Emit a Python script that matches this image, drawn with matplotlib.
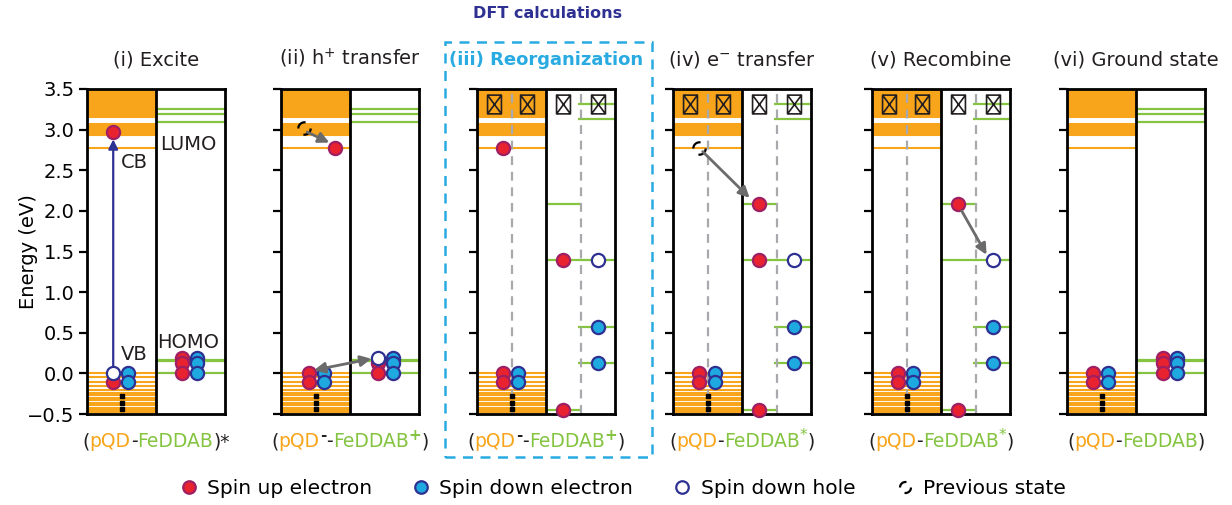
import numpy as np
import matplotlib
matplotlib.use("Agg")
import matplotlib.pyplot as plt
from matplotlib.path import Path
from matplotlib.lines import Line2D
from matplotlib.patches import Rectangle

plt.rcParams['font.family'] = 'DejaVu Sans'

# ---- data (energies in eV, x in panel units: 0-1 pQD, 1-2 FeDDAB) ----
panel_titles = ["(i) Excite", "(ii) h$^{+}$ transfer", "(iii) Reorganization",
                "(iv) e$^{-}$ transfer", "(v) Recombine", "(vi) Ground state"]

qd_levels = [3.49, 3.47, 3.45, 3.43, 3.41, 3.39, 3.37, 3.35, 3.33, 3.31, 3.29,
             3.27, 3.25, 3.23, 3.21, 3.19, 3.17, 3.15,
             3.07, 3.05, 3.03, 3.01, 2.99, 2.97, 2.95, 2.93, 2.78,
             0.0, -0.05, -0.10, -0.16, -0.21, -0.24, -0.27, -0.30, -0.33,
             -0.36, -0.39, -0.42, -0.45, -0.48]

fe_ground_levels = [3.25, 3.19, 3.10, 0.17, 0.15, 0.0]   # panels i, ii, vi
fe_up_levels = [2.09, -0.45]                            # panels iii-v
fe_full_levels = [1.40]
fe_down_levels = [3.32, 3.13, 0.57, 0.13]

# (panel, x, energy)
spin_up = [(0, 0.38, 2.97), (0, 0.38, -0.10), (0, 1.38, 0.19), (0, 1.38, 0.13), (0, 1.38, 0.0),
           (1, 0.78, 2.78), (1, 0.40, 0.0), (1, 0.40, -0.10), (1, 1.40, 0.13), (1, 1.40, 0.0),
           (2, 0.38, 2.78), (2, 0.38, 0.0), (2, 0.38, -0.10), (2, 1.25, 1.40), (2, 1.25, -0.45),
           (3, 0.38, 0.0), (3, 0.38, -0.10), (3, 1.25, 2.09), (3, 1.25, 1.40), (3, 1.25, -0.45),
           (4, 0.38, 0.0), (4, 0.38, -0.10), (4, 1.25, 2.09), (4, 1.25, -0.45),
           (5, 0.38, 0.0), (5, 0.38, -0.10), (5, 1.39, 0.19), (5, 1.39, 0.13), (5, 1.39, 0.0)]
spin_down = [(0, 0.60, 0.0), (0, 0.60, -0.10), (0, 1.59, 0.19), (0, 1.59, 0.13), (0, 1.59, 0.0),
             (1, 0.63, 0.0), (1, 0.63, -0.10), (1, 1.63, 0.19), (1, 1.63, 0.13), (1, 1.63, 0.0),
             (2, 0.60, 0.0), (2, 0.60, -0.10), (2, 1.76, 0.57), (2, 1.76, 0.13),
             (3, 0.61, 0.0), (3, 0.61, -0.10), (3, 1.76, 0.57), (3, 1.76, 0.13),
             (4, 0.60, 0.0), (4, 0.60, -0.10), (4, 1.76, 0.57), (4, 1.76, 0.13),
             (5, 0.60, 0.0), (5, 0.60, -0.10), (5, 1.60, 0.19), (5, 1.60, 0.13), (5, 1.60, 0.0)]
holes = [(0, 0.38, 0.0), (1, 1.40, 0.19), (2, 1.76, 1.40), (3, 1.76, 1.40), (4, 1.76, 1.40)]
previous = [(1, 0.34, 3.02), (3, 0.38, 2.78)]
arrows = [(1, (0.38, 2.97), (0.70, 2.84), '-|>'),
          (1, (0.48, 0.04), (1.31, 0.18), '<|-|>'),
          (3, (0.43, 2.73), (1.11, 2.16), '-|>'),
          (4, (1.30, 2.00), (1.66, 1.46), '-|>')]
box_x = [0.24, 0.73, 1.25, 1.76]
box_e = 3.32
dots_e = [-0.28, -0.36, -0.44]

bottom_labels = [
    [("(", 'k', 0), ("pQD", 'o', 0), ("-", 'k', 0), ("FeDDAB", 'g', 0), (")*", 'k', 0)],
    [("(", 'k', 0), ("pQD", 'o', 0), ("-", 'k', 1), ("-", 'k', 0), ("FeDDAB", 'g', 0), ("+", 'g', 1), (")", 'k', 0)],
    [("(", 'k', 0), ("pQD", 'o', 0), ("-", 'k', 1), ("-", 'k', 0), ("FeDDAB", 'g', 0), ("+", 'g', 1), (")", 'k', 0)],
    [("(", 'k', 0), ("pQD", 'o', 0), ("-", 'k', 0), ("FeDDAB", 'g', 0), ("*", 'g', 1), (")", 'k', 0)],
    [("(", 'k', 0), ("pQD", 'o', 0), ("-", 'k', 0), ("FeDDAB", 'g', 0), ("*", 'g', 1), (")", 'k', 0)],
    [("(", 'k', 0), ("pQD", 'o', 0), ("-", 'k', 0), ("FeDDAB", 'g', 0), (")", 'k', 0)],
]
legend_labels = ["Spin up electron", "Spin down electron", "Spin down hole", "Previous state"]

# ---- styles ----
ORANGE = '#f9a51b'
GREEN = '#84c441'
RED = '#e8232f'
RED_EDGE = '#9e1f63'
BLUE = '#1fa9e1'
NAVY = '#2e3192'
CYAN = '#29abe2'
GRAY = '#6b6b6b'
DARK = '#231f20'
cmap_txt = {'k': DARK, 'o': ORANGE, 'g': GREEN}

W, H = 1232, 505
fig = plt.figure(figsize=(W / 100, H / 100), dpi=100)

lefts = [87, 281, 477, 673, 872, 1067]
pw = 138
y_top, y_bot = 89, 414

box_path = Path([(-0.37, -0.5), (0.37, -0.5), (0.37, 0.5), (-0.37, 0.5), (-0.37, -0.5),
                 (-0.37, -0.5), (0.37, 0.5), (-0.37, 0.5), (0.37, -0.5)],
                [Path.MOVETO, Path.LINETO, Path.LINETO, Path.LINETO, Path.CLOSEPOLY,
                 Path.MOVETO, Path.LINETO, Path.MOVETO, Path.LINETO])
prev_path = Path.make_compound_path(Path.arc(80, 180), Path.arc(260, 360))

def dot(ax, x, e, fc, ec, z=5):
    ax.plot(x, e, 'o', ms=9.5, mfc=fc, mec=ec, mew=1.6, zorder=z, clip_on=False)

axes = []
for i in range(6):
    ax = fig.add_axes([lefts[i] / W, 1 - y_bot / H, pw / W, (y_bot - y_top) / H])
    axes.append(ax)
    ax.set_xlim(0, 2)
    ax.set_ylim(-0.5, 3.5)
    ax.set_xticks([])
    ax.set_yticks(np.arange(-0.5, 3.51, 0.5))
    ax.tick_params(axis='y', direction='out', length=6, width=1.6, labelsize=14, pad=3)
    if i > 0:
        ax.set_yticklabels([])
    for s in ax.spines.values():
        s.set_linewidth(2)
    ax.axvline(1, color='k', lw=2, zorder=3)
    ax.hlines(qd_levels, 0, 1, color=ORANGE, lw=1.5, zorder=1)
    if i in (0, 1, 5):
        ax.hlines(fe_ground_levels, 1, 2, color=GREEN, lw=1.6, zorder=1)
    else:
        ax.hlines(fe_up_levels, 1, 1.5, color=GREEN, lw=1.6, zorder=1)
        ax.hlines(fe_full_levels, 1, 2, color=GREEN, lw=1.6, zorder=1)
        ax.hlines(fe_down_levels, 1.47, 2, color=GREEN, lw=1.6, zorder=1)
        ax.axvline(0.5, color='#a7a9ac', lw=1.6, ls=(0, (4, 3)), zorder=2)
        ax.axvline(1.5, color='#a7a9ac', lw=1.6, ls=(0, (4, 3)), zorder=2)
        ax.plot(box_x, [box_e] * len(box_x), ls='none', marker=box_path, ms=13.5,
                mfc='none', mec='#231f20', mew=1.2, zorder=4)
    ax.plot([0.5] * len(dots_e), dots_e, ls='none', marker='s', ms=2.5, color='k', zorder=4)
    if i == 2:
        ax.set_title(panel_titles[i], fontsize=13, fontweight='bold', color=CYAN, pad=17)
    else:
        ax.set_title(panel_titles[i], fontsize=14, color=DARK, pad=17)

axes[0].set_ylabel("Energy (eV)", fontsize=14, labelpad=-8)

for p, x, e in spin_up:
    dot(axes[p], x, e, RED, RED_EDGE)
for p, x, e in spin_down:
    dot(axes[p], x, e, BLUE, NAVY)
for p, x, e in holes:
    dot(axes[p], x, e, 'white', NAVY, z=6)
for p, x, e in previous:
    axes[p].plot(x, e, ls='none', marker=prev_path, ms=9, mfc='none', mec='k', mew=1.6, zorder=5)
for p, a, b, st in arrows:
    axes[p].annotate("", xy=b, xytext=a,
                     arrowprops=dict(arrowstyle=st, color=GRAY, lw=2, mutation_scale=16,
                                     shrinkA=0, shrinkB=0), zorder=7)

# excitation arrow + labels in panel i
a0 = axes[0]
a0.annotate("", xy=(0.38, 2.88), xytext=(0.38, 0.05),
            arrowprops=dict(arrowstyle='-|>', color=NAVY, lw=1.6, mutation_scale=14,
                            shrinkA=0, shrinkB=0), zorder=4)
a0.text(0.68, 2.59, "CB", fontsize=14, ha='center', va='center', color=DARK, zorder=6)
a0.text(1.47, 2.82, "LUMO", fontsize=14, ha='center', va='center', color=DARK, zorder=6)
a0.text(0.68, 0.23, "VB", fontsize=14, ha='center', va='center', color=DARK, zorder=6)
a0.text(1.47, 0.38, "HOMO", fontsize=14, ha='center', va='center', color=DARK, zorder=6)

# top heading and dashed box
fig.text(548 / W, 1 - 14 / H, "DFT calculations", fontsize=11.5, fontweight='bold',
         color=NAVY, ha='center', va='center')
fig.patches.append(Rectangle((445 / W, 1 - 457 / H), 207 / W, 415 / H, transform=fig.transFigure,
                             fill=False, ec=CYAN, lw=1.8, ls=(0, (4, 3))))

# multi-colour bottom labels
renderer = fig.canvas.get_renderer()
for i, parts in enumerate(bottom_labels):
    xc = lefts[i] + pw / 2
    yb = 1 - 447 / H
    pieces = []
    for s, c, sup in parts:
        t = fig.text(0, yb + (7 / H if sup else 0), s, color=cmap_txt[c],
                     fontsize=11 if sup else 13.5, fontweight='bold' if (sup and s != '*') else 'normal',
                     ha='left', va='baseline')
        pieces.append(t)
    widths = [t.get_window_extent(renderer).width for t in pieces]
    x = xc - sum(widths) / 2
    for t, w in zip(pieces, widths):
        t.set_x(x / W)
        x += w

# legend
handles = [
    Line2D([], [], ls='none', marker='o', ms=9, mfc=RED, mec=RED_EDGE, mew=1.6),
    Line2D([], [], ls='none', marker='o', ms=9, mfc=BLUE, mec=NAVY, mew=1.6),
    Line2D([], [], ls='none', marker='o', ms=9, mfc='white', mec=NAVY, mew=1.6),
    Line2D([], [], ls='none', marker=prev_path, ms=8, mfc='none', mec='k', mew=1.6),
]
fig.legend(handles, legend_labels, loc='center', bbox_to_anchor=(623 / W, 1 - 489 / H),
           ncol=4, frameon=False, fontsize=14.5, handlelength=0.8, handletextpad=0.5,
           columnspacing=2.05, borderpad=0)

fig.savefig("out.png", dpi=100)
